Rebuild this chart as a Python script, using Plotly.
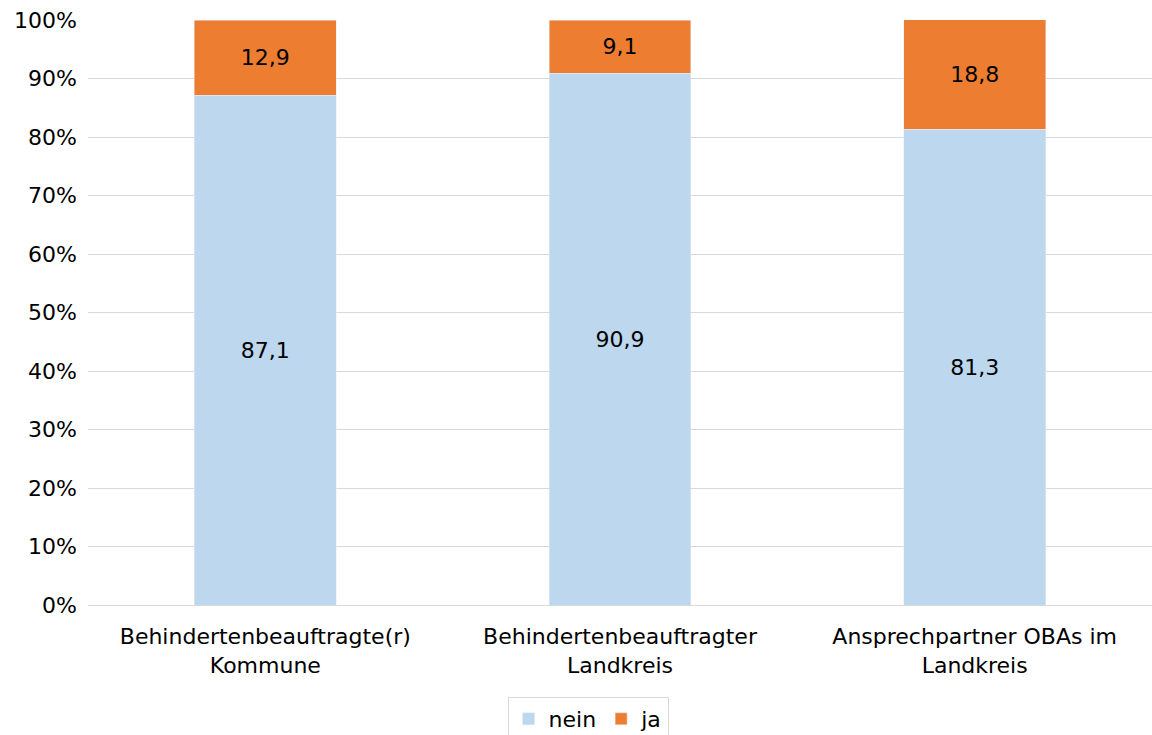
import plotly.graph_objects as go

categories = ["Behindertenbeauftragte(r)<br>Kommune",
              "Behindertenbeauftragter<br>Landkreis",
              "Ansprechpartner OBAs im<br>Landkreis"]
nein = [87.1, 90.9, 81.3]
ja = [12.9, 9.1, 18.8]
y_ticks = [0, 10, 20, 30, 40, 50, 60, 70, 80, 90, 100]
y_tick_labels = [f"{v}%" for v in y_ticks]

FONT = "DejaVu Sans"
FS = 22

fig = go.Figure()
fig.add_trace(go.Bar(name="nein", x=categories, y=nein, marker_color="#BDD7EE",
                     texttemplate="%{y:.1f}", textposition="inside",
                     insidetextanchor="middle",
                     textfont=dict(color="#000000", size=FS, family=FONT)))
fig.add_trace(go.Bar(name="ja", x=categories, y=ja, marker_color="#ED7D31",
                     texttemplate="%{y:.1f}", textposition="inside",
                     insidetextanchor="middle",
                     textfont=dict(color="#000000", size=FS, family=FONT)))

fig.update_layout(
    barmode="stack",
    bargap=0.6,
    width=1152, height=735,
    margin=dict(l=88, r=0, t=20, b=130, autoexpand=False),
    plot_bgcolor="white", paper_bgcolor="white",
    separators=",.",
    font=dict(family=FONT, size=FS, color="#000000"),
    legend=dict(orientation="h", x=0.47, xanchor="center",
                yref="container", y=1 - 697 / 735, yanchor="top",
                bordercolor="#D9D9D9", borderwidth=1, font=dict(size=FS),
                traceorder="normal", itemwidth=30),
    xaxis=dict(showline=True, linecolor="#D9D9D9", linewidth=1, ticks="",
               tickfont=dict(size=FS), automargin=False,
               ticklabelstandoff=12),
    yaxis=dict(range=[0, 100], tickmode="array", tickvals=y_ticks,
               ticktext=y_tick_labels, automargin=False,
               showgrid=True, gridcolor="#D9D9D9", gridwidth=1,
               zeroline=False, ticks="", tickfont=dict(size=FS),
               ticklabelstandoff=10),
)

fig.write_html("out.html")
